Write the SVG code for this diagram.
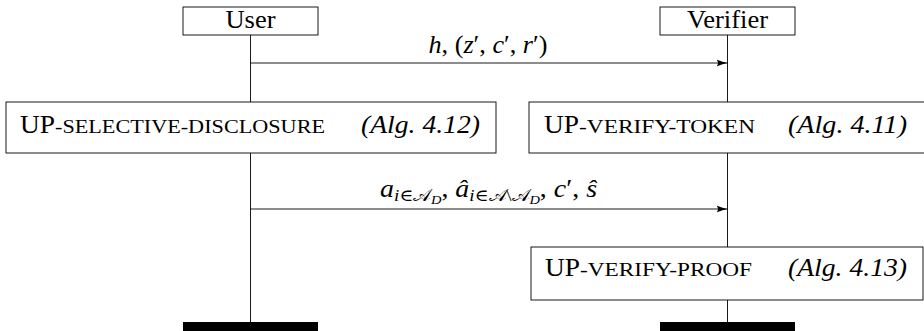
<svg xmlns="http://www.w3.org/2000/svg" width="924" height="331" viewBox="0 0 924 331">
<defs>
<style>
.box{fill:#fff;stroke:#000;stroke-width:0.9}
.ln{stroke:#000;stroke-width:0.9;fill:none}
.bar{fill:#000}
.t{font-family:"Liberation Serif","DejaVu Serif",serif;font-size:25px;fill:#000}
.it{font-style:italic}
.sc{font-size:19.5px}
.sub{font-size:17px}
.ss{font-size:13px}
</style>
<marker id="arr" viewBox="0 0 11 8" refX="11" refY="4" markerWidth="11" markerHeight="8" markerUnits="userSpaceOnUse" orient="auto">
<path d="M0,0.6 Q6,3 11,4 Q6,5 0,7.4 Q3,4 0,0.6 Z" fill="#000"/>
</marker>
</defs>
<rect width="924" height="331" fill="#fff"/>
<g id="connectors">
<line class="ln" x1="250.5" y1="35" x2="250.5" y2="323"/>
<line class="ln" x1="727.5" y1="35" x2="727.5" y2="323"/>
<line class="ln" x1="250.5" y1="63" x2="727.5" y2="63" marker-end="url(#arr)"/>
<text class="t" x="488" y="53" text-anchor="middle" textLength="119" lengthAdjust="spacingAndGlyphs"><tspan class="it">h</tspan>, (<tspan class="it">z</tspan>′, <tspan class="it">c</tspan>′, <tspan class="it">r</tspan>′)</text>
<line class="ln" x1="250.5" y1="209" x2="727.5" y2="209" marker-end="url(#arr)"/>
<text class="t" x="380" y="197" textLength="217" lengthAdjust="spacingAndGlyphs"><tspan class="it">a</tspan><tspan class="sub" dy="4"><tspan class="it">i</tspan>∈𝒜</tspan><tspan class="ss it" dy="3">D</tspan><tspan dy="-7">, </tspan><tspan class="it">â</tspan><tspan class="sub" dy="4"><tspan class="it">i</tspan>∈𝒜\𝒜</tspan><tspan class="ss it" dy="3">D</tspan><tspan dy="-7">, </tspan><tspan class="it">c</tspan>′, <tspan class="it">ŝ</tspan></text>
</g>
<g id="user">
<rect class="box" x="183" y="7" width="135" height="28"/>
<text class="t" x="250.5" y="28" text-anchor="middle" textLength="50" lengthAdjust="spacingAndGlyphs">User</text>
<rect class="bar" x="183" y="322" width="135" height="12"/>
</g>
<g id="verifier">
<rect class="box" x="660" y="7" width="135" height="28"/>
<text class="t" x="727.5" y="28" text-anchor="middle" textLength="81" lengthAdjust="spacingAndGlyphs">Verifier</text>
<rect class="bar" x="660" y="322" width="135" height="12"/>
</g>
<g id="up-selective-disclosure">
<rect class="box" x="6" y="102" width="490" height="51"/>
<text class="t" y="133"><tspan x="20" textLength="35" lengthAdjust="spacingAndGlyphs">UP</tspan><tspan class="sc" x="55" textLength="270" lengthAdjust="spacingAndGlyphs">-SELECTIVE-DISCLOSURE</tspan></text>
<text class="t it" x="361" y="133" textLength="119" lengthAdjust="spacingAndGlyphs">(Alg. 4.12)</text>
</g>
<g id="up-verify-token">
<rect class="box" x="529" y="102" width="396" height="51"/>
<text class="t" y="133"><tspan x="544" textLength="35" lengthAdjust="spacingAndGlyphs">UP</tspan><tspan class="sc" x="579" textLength="176" lengthAdjust="spacingAndGlyphs">-VERIFY-TOKEN</tspan></text>
<text class="t it" x="788" y="133" textLength="119" lengthAdjust="spacingAndGlyphs">(Alg. 4.11)</text>
</g>
<g id="up-verify-proof">
<rect class="box" x="531" y="247" width="392" height="53"/>
<text class="t" y="276"><tspan x="545" textLength="35" lengthAdjust="spacingAndGlyphs">UP</tspan><tspan class="sc" x="580" textLength="172" lengthAdjust="spacingAndGlyphs">-VERIFY-PROOF</tspan></text>
<text class="t it" x="788" y="276" textLength="119" lengthAdjust="spacingAndGlyphs">(Alg. 4.13)</text>
</g>
</svg>
